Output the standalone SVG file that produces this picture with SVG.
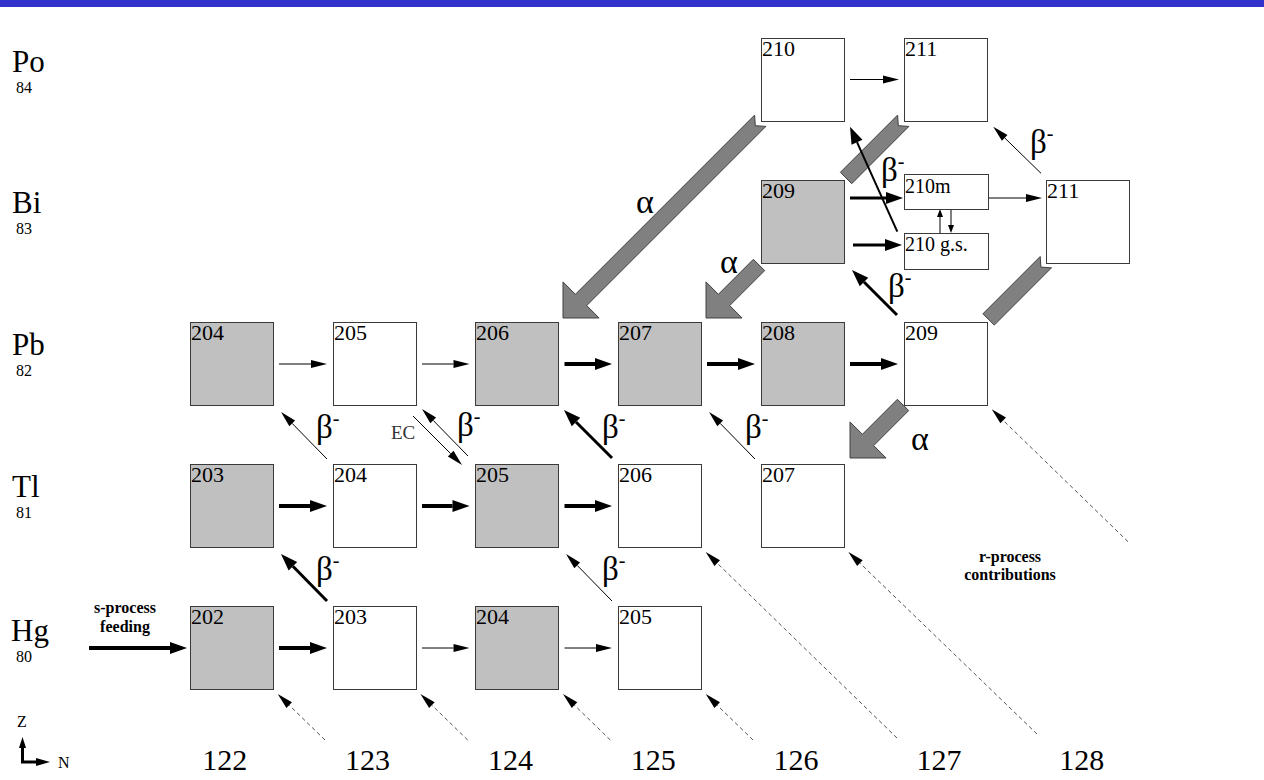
<svg xmlns="http://www.w3.org/2000/svg" width="1264" height="780" viewBox="0 0 1264 780">
<style>
text{font-family:"Liberation Serif","Times New Roman",serif;fill:#000}
.box{stroke:#3a3a3a;stroke-width:1}
.w{fill:#fff}
.g{fill:#c0c0c0}
.num{font-size:22px}
.el{font-size:31px}
.z{font-size:16px}
.n{font-size:30px;text-anchor:middle}
.beta{font-size:33px}
.sup{font-size:20px}
.alpha{font-size:34px}
.bold{font-size:16px;font-weight:bold;text-anchor:middle}
.thin{stroke:#000;stroke-width:1;fill:none;marker-end:url(#h1)}
.thick{stroke:#000;stroke-width:4;fill:none;marker-end:url(#h2)}
.mid{stroke:#000;stroke-width:3;fill:none;marker-end:url(#h2)}
.small{stroke:#000;stroke-width:1;fill:none;marker-end:url(#h3)}
.dash{stroke:#555;stroke-width:1;stroke-dasharray:4 3;fill:none;marker-end:url(#h1)}
.ga{fill:#808080;stroke:#404040;stroke-width:1}
</style>
<defs>
<marker id="h1" markerUnits="userSpaceOnUse" markerWidth="16" markerHeight="8" refX="0" refY="4" orient="auto" overflow="visible"><path d="M0,0 L16,4 L0,8 z" fill="#000"/></marker>
<marker id="h2" markerUnits="userSpaceOnUse" markerWidth="17" markerHeight="12" refX="0" refY="6" orient="auto" overflow="visible"><path d="M0,0 L17,6 L0,12 z" fill="#000"/></marker>
<marker id="h3" markerUnits="userSpaceOnUse" markerWidth="8" markerHeight="6" refX="0" refY="3" orient="auto" overflow="visible"><path d="M0,0 L8,3 L0,6 z" fill="#000"/></marker>
</defs>
<rect x="0" y="0" width="1264" height="7" fill="#3333cc"/>

<g id="connectors">
  <!-- alpha decays (gray block arrows) -->
  <polygon class="ga" points="563,318 599.1,318 586.7,305.6 765.9,126.4 755.3,125.7 754.6,115.1 575.4,294.3 563,281.9"/>
  <polygon class="ga" points="706,318 742.1,318 729.7,305.6 764.7,270.6 753.4,259.3 718.4,294.3 706,281.9"/>
  <polygon class="ga" points="851.7,183.7 908.9,126.4 898.3,125.7 897.6,115.1 840.4,172.3"/>
  <polygon class="ga" points="850,458 886.1,458 873.7,445.6 908.7,410.6 897.4,399.3 862.4,434.3 850,421.9"/>
  <polygon class="ga" points="994.3,325.1 1051.5,267.8 1040.9,267.1 1040.2,256.5 982.9,313.8"/>

  <!-- neutron captures -->
  <line class="thin" x1="850" y1="79.5" x2="883" y2="79.5"/>
  <line class="mid" x1="850" y1="198" x2="886" y2="198"/>
  <line class="mid" x1="853" y1="245" x2="885" y2="245"/>
  <line class="thin" x1="988" y1="198" x2="1026" y2="198"/>
  <line class="small" x1="940" y1="233" x2="940" y2="217"/>
  <line class="small" x1="951" y1="209" x2="951" y2="225"/>

  <line class="thin" x1="279" y1="364" x2="311" y2="364"/>
  <line class="thin" x1="422" y1="364" x2="453.5" y2="364"/>
  <line class="thick" x1="564.5" y1="364" x2="595" y2="364"/>
  <line class="thick" x1="707" y1="364" x2="738" y2="364"/>
  <line class="thick" x1="850" y1="364" x2="881" y2="364"/>

  <line class="thick" x1="279" y1="506" x2="310" y2="506"/>
  <line class="thick" x1="422" y1="506" x2="452.5" y2="506"/>
  <line class="thick" x1="564.5" y1="506" x2="595" y2="506"/>

  <line class="thick" x1="89" y1="648" x2="170" y2="648"/>
  <line class="thick" x1="279" y1="648" x2="310" y2="648"/>
  <line class="thin" x1="422" y1="648" x2="453.5" y2="648"/>
  <line class="thin" x1="564.5" y1="648" x2="596" y2="648"/>

  <!-- beta decays / EC -->
  <line class="thin" x1="327" y1="459" x2="292.2" y2="423.4"/>
  <line class="thin" x1="413" y1="416" x2="450.7" y2="453.7"/>
  <line class="thin" x1="468" y1="456" x2="433.2" y2="420.4"/>
  <line class="mid" x1="612" y1="458" x2="576" y2="422"/>
  <line class="thin" x1="755" y1="459" x2="720.2" y2="423.4"/>
  <line class="mid" x1="327" y1="601" x2="292.9" y2="566.2"/>
  <line class="thin" x1="612" y1="601" x2="577.2" y2="565.4"/>
  <line class="mid" x1="897" y1="315" x2="864" y2="282"/>
  <line class="thin" x1="897.3" y1="231.7" x2="857" y2="142.2" style="stroke-width:2;marker-end:url(#h2)"/>
  <line class="thin" x1="1041" y1="173.3" x2="1004.7" y2="137.9"/>

  <!-- r-process contributions -->
  <line class="dash" x1="325" y1="740" x2="289.2" y2="705.2"/>
  <line class="dash" x1="467.7" y1="740" x2="431.9" y2="705.2"/>
  <line class="dash" x1="610.3" y1="740" x2="574.5" y2="705.2"/>
  <line class="dash" x1="753" y1="740" x2="717.2" y2="705.2"/>
  <line class="dash" x1="897" y1="738" x2="717.2" y2="563.2"/>
  <line class="dash" x1="1037" y1="734" x2="859.9" y2="563.1"/>
  <line class="dash" x1="1128" y1="541.7" x2="1003.2" y2="420.4"/>

  <!-- labels -->
  <text class="alpha" x="636" y="213">α</text>
  <text class="alpha" x="720" y="273">α</text>
  <text class="alpha" x="911" y="450">α</text>
  <text class="beta" x="316" y="438">β<tspan class="sup" dy="-13">-</tspan></text>
  <text x="391" y="439" style="font-size:19px;fill:#333">EC</text>
  <text class="beta" x="457" y="436">β<tspan class="sup" dy="-13">-</tspan></text>
  <text class="beta" x="602" y="438">β<tspan class="sup" dy="-13">-</tspan></text>
  <text class="beta" x="745" y="438">β<tspan class="sup" dy="-13">-</tspan></text>
  <text class="beta" x="316" y="580">β<tspan class="sup" dy="-13">-</tspan></text>
  <text class="beta" x="602" y="580">β<tspan class="sup" dy="-13">-</tspan></text>
  <text class="beta" x="888" y="297">β<tspan class="sup" dy="-13">-</tspan></text>
  <text class="beta" x="881" y="181">β<tspan class="sup" dy="-13">-</tspan></text>
  <text class="beta" x="1030" y="153">β<tspan class="sup" dy="-13">-</tspan></text>
  <text class="bold" x="125" y="613">s-process</text>
  <text class="bold" x="125" y="632">feeding</text>
  <text class="bold" x="1010" y="562">r-process</text>
  <text class="bold" x="1010" y="580">contributions</text>
</g>

<!-- Po row -->
<g id="po210"><rect class="box w" x="761.5" y="38.5" width="83" height="83"/><text class="num" x="762" y="56">210</text></g>
<g id="po211"><rect class="box w" x="904.5" y="38.5" width="83" height="83"/><text class="num" x="905" y="56">211</text></g>
<!-- Bi row -->
<g id="bi209"><rect class="box g" x="761.5" y="180.5" width="83" height="83"/><text class="num" x="762" y="198">209</text></g>
<g id="bi210m"><rect class="box w" x="904.5" y="174.5" width="84" height="35"/><text x="905" y="193" style="font-size:20px">210m</text></g>
<g id="bi210gs"><rect class="box w" x="904.5" y="233.5" width="84" height="36"/><text x="905" y="251" style="font-size:20px">210 g.s.</text></g>
<g id="bi211"><rect class="box w" x="1046.5" y="180.5" width="83" height="83"/><text class="num" x="1047" y="198">211</text></g>
<!-- Pb row -->
<g id="pb204"><rect class="box g" x="190.5" y="322.5" width="83" height="83"/><text class="num" x="191" y="340">204</text></g>
<g id="pb205"><rect class="box w" x="333.5" y="322.5" width="83" height="83"/><text class="num" x="334" y="340">205</text></g>
<g id="pb206"><rect class="box g" x="475.5" y="322.5" width="83" height="83"/><text class="num" x="476" y="340">206</text></g>
<g id="pb207"><rect class="box g" x="618.5" y="322.5" width="83" height="83"/><text class="num" x="619" y="340">207</text></g>
<g id="pb208"><rect class="box g" x="761.5" y="322.5" width="83" height="83"/><text class="num" x="762" y="340">208</text></g>
<g id="pb209"><rect class="box w" x="904.5" y="322.5" width="83" height="83"/><text class="num" x="905" y="340">209</text></g>
<!-- Tl row -->
<g id="tl203"><rect class="box g" x="190.5" y="464.5" width="83" height="83"/><text class="num" x="191" y="482">203</text></g>
<g id="tl204"><rect class="box w" x="333.5" y="464.5" width="83" height="83"/><text class="num" x="334" y="482">204</text></g>
<g id="tl205"><rect class="box g" x="475.5" y="464.5" width="83" height="83"/><text class="num" x="476" y="482">205</text></g>
<g id="tl206"><rect class="box w" x="618.5" y="464.5" width="83" height="83"/><text class="num" x="619" y="482">206</text></g>
<g id="tl207"><rect class="box w" x="761.5" y="464.5" width="83" height="83"/><text class="num" x="762" y="482">207</text></g>
<!-- Hg row -->
<g id="hg202"><rect class="box g" x="190.5" y="606.5" width="83" height="83"/><text class="num" x="191" y="624">202</text></g>
<g id="hg203"><rect class="box w" x="333.5" y="606.5" width="83" height="83"/><text class="num" x="334" y="624">203</text></g>
<g id="hg204"><rect class="box g" x="475.5" y="606.5" width="83" height="83"/><text class="num" x="476" y="624">204</text></g>
<g id="hg205"><rect class="box w" x="618.5" y="606.5" width="83" height="83"/><text class="num" x="619" y="624">205</text></g>

<g id="element-labels">
  <text class="el" x="12" y="72">Po</text><text class="z" x="16" y="93">84</text>
  <text class="el" x="12" y="213">Bi</text><text class="z" x="16" y="234">83</text>
  <text class="el" x="12" y="355">Pb</text><text class="z" x="16" y="376">82</text>
  <text class="el" x="12" y="497">Tl</text><text class="z" x="16" y="518">81</text>
  <text class="el" x="11" y="641">Hg</text><text class="z" x="16" y="662">80</text>
</g>
<g id="neutron-numbers">
  <text class="n" x="224.7" y="770">122</text>
  <text class="n" x="367.5" y="770">123</text>
  <text class="n" x="510.4" y="770">124</text>
  <text class="n" x="653.3" y="770">125</text>
  <text class="n" x="796.1" y="770">126</text>
  <text class="n" x="938.9" y="770">127</text>
  <text class="n" x="1081.8" y="770">128</text>
</g>
<g id="axes">
  <text class="z" x="17" y="727">Z</text>
  <path d="M22.5,747 V762 H37" stroke="#000" stroke-width="3" fill="none"/>
  <polygon points="22.5,737 19,748 26,748" fill="#000"/>
  <polygon points="50,762 36,758 36,766" fill="#000"/>
  <text class="z" x="58" y="768">N</text>
</g>
</svg>
